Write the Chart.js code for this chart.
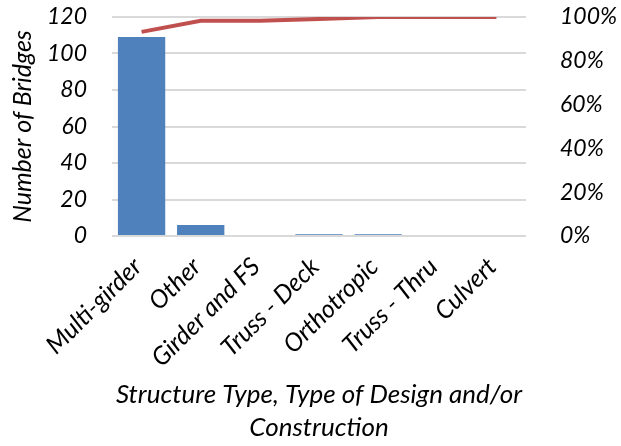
<!DOCTYPE html>
<html>
<head>
<meta charset="utf-8">
<script src="https://cdn.jsdelivr.net/npm/chart.js@4"></script>
<style>
  html, body { margin: 0; padding: 0; background: #fff; }
  #wrap { width: 621px; height: 446px; }
</style>
</head>
<body>
<div id="wrap"><canvas id="chart" width="621" height="446"></canvas></div>
<script>
// categories and values
const categories = ['Multi-girder', 'Other', 'Girder and FS', 'Truss - Deck', 'Orthotropic', 'Truss - Thru', 'Culvert'];
const bridgeCounts = [109, 6, 0, 1, 1, 0, 0];
const cumulativePct = [93.2, 98.3, 98.3, 99.1, 100, 100, 100];
const countTicks = [0, 20, 40, 60, 80, 100, 120];
const pctTicks = [0, 20, 40, 60, 80, 100];

const fontFamily = 'Lato, "Open Sans", sans-serif';
const italic = size => ({ family: fontFamily, size: size, style: 'italic' });

// chart.js adds the tick padding to the axis end padding, which pushes the plot down
const noPad = axis => { axis.paddingTop = 0; axis.paddingBottom = 0; axis.paddingLeft = 0; axis.paddingRight = 0; };

new Chart(document.getElementById('chart'), {
  data: {
    labels: categories,
    datasets: [
      {
        type: 'line',
        label: 'Cumulative %',
        data: cumulativePct,
        yAxisID: 'y1',
        borderColor: '#c0504d',
        borderWidth: 4,
        pointRadius: 0,
        tension: 0,
        order: 0
      },
      {
        type: 'bar',
        label: 'Number of Bridges',
        data: bridgeCounts,
        yAxisID: 'y',
        backgroundColor: '#4f81bd',
        barPercentage: 0.8,
        categoryPercentage: 1,
        order: 1
      }
    ]
  },
  options: {
    responsive: false,
    animation: false,
    layout: { padding: { top: 17, left: 0, right: 0, bottom: 2 } },
    plugins: { legend: { display: false }, tooltip: { enabled: false } },
    scales: {
      x: {
        afterFit: axis => { axis.height = 208; noPad(axis); },
        grid: { display: false },
        border: { display: false },
        ticks: { color: '#000', font: italic(25), minRotation: 45, maxRotation: 45, padding: 8, labelOffset: -4 },
        title: {
          display: true,
          text: ['Structure Type, Type of Design and/or', 'Construction'],
          color: '#000',
          font: { family: fontFamily, size: 26, style: 'italic', lineHeight: 1.27 },
          padding: { top: 4, bottom: 0 }
        }
      },
      y: {
        position: 'left',
        min: 0,
        max: 120,
        afterBuildTicks: axis => { axis.ticks = countTicks.map(v => ({ value: v })); },
        afterFit: axis => { axis.width = 112; noPad(axis); },
        grid: { color: '#d9d9d9', lineWidth: 2, drawTicks: false },
        border: { display: false },
        ticks: { color: '#000', font: italic(23), padding: 25 },
        title: { display: true, text: 'Number of Bridges', color: '#000', font: italic(25), padding: { top: 8, bottom: 4 } }
      },
      y1: {
        position: 'right',
        min: 0,
        max: 100,
        afterBuildTicks: axis => { axis.ticks = pctTicks.map(v => ({ value: v })); },
        afterFit: axis => { axis.width = 95; noPad(axis); },
        grid: { display: false },
        border: { display: false },
        ticks: { color: '#000', font: italic(23), padding: 26, callback: v => v + '%' }
      }
    }
  }
});
</script>
</body>
</html>
